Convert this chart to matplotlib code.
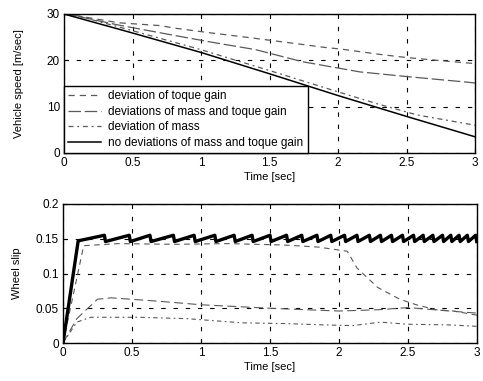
import numpy as np
import matplotlib
matplotlib.use("Agg")
import matplotlib.pyplot as plt

# --- top panel: vehicle speed ---
t_nom = [0, 0.5, 1.0, 1.5, 2.0, 2.5, 3.0]
v_nom = [30, 25.9, 21.7, 17.1, 12.4, 7.9, 3.5]

t_torque = [0, 0.1, 0.4, 0.7, 0.82, 1.05, 1.3, 1.67, 1.9, 2.03, 2.3, 2.5, 2.8, 3.0]
v_torque = [30, 29.6, 28.1, 27.5, 26.9, 26.0, 25.1, 23.7, 22.8, 22.4, 21.3, 20.6, 19.8, 19.3]

t_both = [0, 0.1, 0.4, 0.82, 1.1, 1.4, 1.74, 2.16, 2.5, 2.94, 3.0]
v_both = [30, 29.5, 27.6, 25.3, 23.8, 22.3, 19.7, 17.5, 16.5, 15.3, 15.1]

t_mass = [0, 0.1, 0.5, 1.0, 1.5, 2.0, 2.3, 2.58, 3.0]
v_mass = [30, 29.6, 26.4, 22.3, 17.8, 13.2, 10.5, 8.2, 6.0]

legend_labels = ["deviation of toque gain",
                 "deviations of mass and toque gain",
                 "deviation of mass",
                 "no deviations of mass and toque gain"]

# --- bottom panel: wheel slip ---
slip_peaks = [0.30, 0.48, 0.63, 0.80, 0.95, 1.10, 1.24, 1.37, 1.50, 1.62, 1.73,
              1.84, 1.94, 2.04, 2.13, 2.22, 2.30, 2.38, 2.46, 2.54, 2.61, 2.68,
              2.75, 2.81, 2.87, 2.93, 2.99]
slip_high = 0.155
slip_low = 0.146

t_s2 = [0, 0.15, 0.4, 0.8, 1.2, 1.6, 1.85, 2.06, 2.13, 2.28, 2.44, 2.56, 2.7, 2.83, 3.0]
s_s2 = [0, 0.140, 0.143, 0.142, 0.143, 0.141, 0.138, 0.132, 0.108, 0.080, 0.063, 0.055, 0.048, 0.046, 0.040]

t_s3 = [0, 0.1, 0.25, 0.35, 0.7, 1.0, 1.1, 1.5, 2.0, 2.3, 2.5, 2.8, 3.0]
s_s3 = [0, 0.035, 0.063, 0.065, 0.060, 0.055, 0.054, 0.050, 0.046, 0.048, 0.051, 0.046, 0.043]

t_s4 = [0, 0.1, 0.2, 0.55, 0.9, 1.3, 1.6, 1.9, 2.1, 2.3, 2.5, 2.8, 3.0]
s_s4 = [0, 0.030, 0.037, 0.037, 0.035, 0.029, 0.028, 0.026, 0.025, 0.030, 0.027, 0.026, 0.024]

x_ticks = [0, 0.5, 1, 1.5, 2, 2.5, 3]
x_ticklabels = ["0", "0.5", "1", "1.5", "2", "2.5", "3"]

plt.rcParams["font.family"] = ["Liberation Sans", "DejaVu Sans"]
plt.rcParams["font.size"] = 8.5

fig = plt.figure(figsize=(4.83, 3.81), dpi=100)
ax1 = fig.add_axes([64 / 483, 1 - 153 / 381, 411 / 483, 139 / 381])
ax2 = fig.add_axes([63 / 483, 1 - 343 / 381, 414 / 483, 139 / 381])

grid_kw = dict(color="black", linestyle=(0, (4, 7)), linewidth=0.8)
gray = "0.35"

ax1.plot(t_torque, v_torque, color=gray, lw=0.9, dashes=(5, 4), label=legend_labels[0])
ax1.plot(t_both, v_both, color=gray, lw=0.9, dashes=(10, 3), label=legend_labels[1])
ax1.plot(t_mass, v_mass, color=gray, lw=0.9, dashes=(4, 3, 1.5, 3), label=legend_labels[2])
ax1.plot(t_nom, v_nom, color="black", lw=1.1, label=legend_labels[3])
ax1.set_xlim(0, 3)
ax1.set_ylim(0, 30)
ax1.set_yticks([0, 10, 20, 30])
ax1.set_xticks(x_ticks)
ax1.set_xticklabels(x_ticklabels)
ax1.grid(True, **grid_kw)
ax1.set_xlabel("Time [sec]", labelpad=2, fontsize=8)
ax1.set_ylabel("Vehicle speed [m/sec]", labelpad=16, fontsize=8)
leg = ax1.legend(loc="lower left", fancybox=False, edgecolor="black", framealpha=1,
                 borderaxespad=0, handlelength=2.8, handletextpad=0.6,
                 labelspacing=0.3, borderpad=0.35, fontsize=8.5)
leg.get_frame().set_linewidth(1.0)

# sawtooth wheel slip from listed tooth times
t_s1 = [0, 0.11]
s_s1 = [0, 0.147]
for p in slip_peaks:
    t_s1 += [p, p + 0.008]
    s_s1 += [slip_high, slip_low]

ax2.plot(t_s2, s_s2, color=gray, lw=0.8, dashes=(5, 4))
ax2.plot(t_s3, s_s3, color=gray, lw=0.8, dashes=(8, 4))
ax2.plot(t_s4, s_s4, color=gray, lw=0.8, dashes=(4, 3, 1.5, 3))
ax2.plot(t_s1, s_s1, color="black", lw=2.4)
ax2.set_xlim(0, 3)
ax2.set_ylim(0, 0.2)
ax2.set_yticks([0, 0.05, 0.1, 0.15, 0.2])
ax2.set_yticklabels(["0", "0.05", "0.1", "0.15", "0.2"])
ax2.set_xticks(x_ticks)
ax2.set_xticklabels(x_ticklabels)
ax2.grid(True, **grid_kw)
ax2.set_xlabel("Time [sec]", labelpad=2, fontsize=8)
ax2.set_ylabel("Wheel slip", labelpad=10, fontsize=8)

for ax in (ax1, ax2):
    for s in ax.spines.values():
        s.set_linewidth(1.0)
    ax.tick_params(direction="in", length=3, width=0.8, pad=3)

fig.savefig("out.png", dpi=100)
